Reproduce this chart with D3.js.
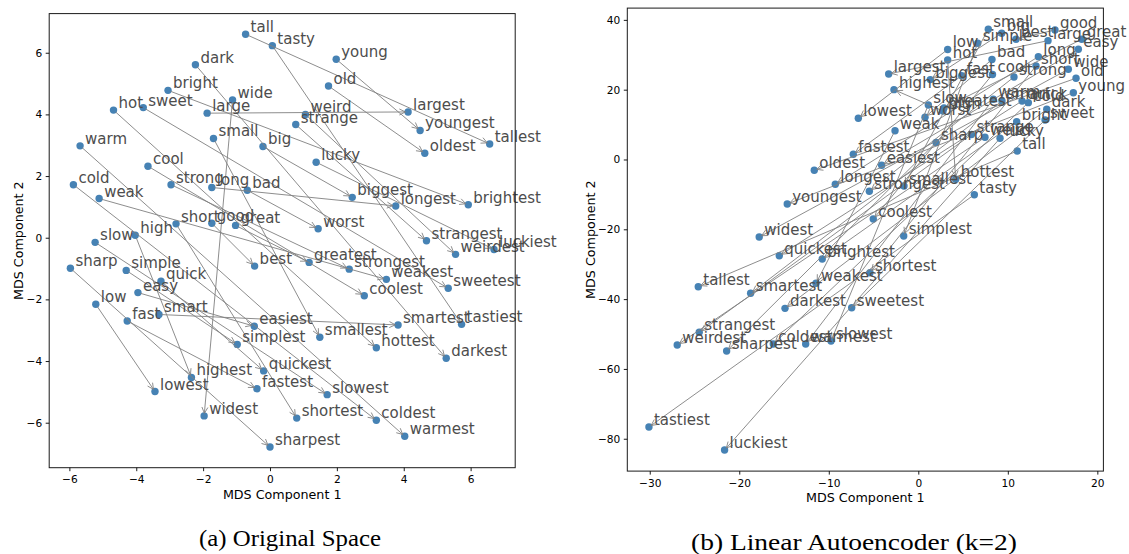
<!DOCTYPE html>
<html><head><meta charset="utf-8">
<script src="https://cdn.jsdelivr.net/npm/d3@7"></script>
<style>body{margin:0;background:#fff} svg{display:block}</style>
</head><body>
<svg id="c" width="1129" height="554"></svg>
<script>
// ---------- data ----------
const baseWords = ["tall","tasty","dark","bright","wide","hot","sweet","large","small","warm","big","cool","cold","strong","long","bad","weak","short","good","great","high","young","old","weird","strange","lucky","slow","sharp","simple","quick","easy","low","smart","fast"];
const supWords  = ["tallest","tastiest","darkest","brightest","widest","hottest","sweetest","largest","smallest","warmest","biggest","coolest","coldest","strongest","longest","worst","weakest","shortest","best","greatest","highest","youngest","oldest","weirdest","strangest","luckiest","slowest","sharpest","simplest","quickest","easiest","lowest","smartest","fastest"];

// (a) Original Space
const origBaseX = [-0.73,0.07,-2.23,-3.05,-1.12,-4.68,-3.79,-1.88,-1.69,-5.68,-0.21,-3.65,-5.88,-2.96,-1.74,-0.68,-5.11,-2.81,-1.74,-1.03,-4.03,1.98,1.75,1.06,0.77,1.38,-5.23,-5.97,-4.30,-3.26,-3.95,-5.21,-3.32,-4.27];
const origBaseY = [6.60,6.23,5.61,4.78,4.47,4.14,4.22,4.04,3.22,2.98,2.96,2.32,1.72,1.72,1.63,1.54,1.27,0.45,0.47,0.40,0.08,5.79,4.92,4.00,3.67,2.45,-0.15,-0.99,-1.06,-1.41,-1.78,-2.16,-2.49,-2.70];
const origSupX  = [6.57,5.73,5.27,5.93,-1.97,3.18,5.33,4.13,1.49,4.03,2.46,2.82,3.18,2.37,3.76,1.44,3.48,0.80,-0.46,1.17,-2.35,4.49,4.63,5.55,4.68,6.70,1.71,0.00,-0.98,-0.19,-0.47,-3.44,3.83,-0.39];
const origSupY  = [3.04,-2.81,-3.91,1.07,-5.78,-3.57,-1.64,4.08,-3.23,-6.44,1.31,-1.88,-5.92,-1.02,1.03,0.29,-1.35,-5.85,-0.92,-0.80,-4.53,3.48,2.74,-0.54,-0.10,-0.38,-5.09,-6.79,-3.46,-4.32,-2.87,-4.99,-2.83,-4.90];

// (b) Linear Autoencoder (k=2)
const aeBaseX = [11.05,6.26,14.35,10.99,16.76,3.28,14.16,14.49,7.82,8.38,9.32,8.29,12.29,10.69,13.41,8.23,-2.60,13.15,15.27,18.26,2.76,17.32,17.62,7.45,5.94,9.13,1.12,1.98,6.64,11.59,17.88,3.28,9.35,4.85];
const aeBaseY = [2.44,-10.09,14.38,10.83,25.85,28.51,11.32,34.04,37.34,17.25,36.16,24.36,16.28,23.64,29.46,28.65,8.25,26.79,37.11,34.44,13.90,19.14,23.27,6.36,7.16,6.07,15.62,4.87,33.30,16.76,31.58,31.52,16.76,24.01];
const aeSupX  = [-24.58,-30.09,-14.89,-10.73,-17.77,4.18,-7.44,-3.31,-1.60,-12.58,1.34,-5.03,-16.20,-5.47,-9.27,0.75,-11.43,-5.40,10.92,2.87,-2.72,-14.64,-11.62,-26.93,-24.47,-21.64,-9.75,-21.41,-1.63,-15.53,-4.09,-6.70,-18.73,-7.26];
const aeSupY  = [-36.45,-76.65,-42.64,-28.51,-22.21,-5.67,-42.46,24.50,-7.59,-52.87,22.89,-17.05,-52.87,-9.11,-7.11,12.12,-35.47,-32.44,34.44,14.76,20.00,-12.75,-3.09,-53.15,-49.51,-83.24,-52.01,-54.87,-21.92,-27.56,-1.66,11.81,-38.34,1.49];

const origXTicks = [-6,-4,-2,0,2,4,6];
const origYTicks = [-6,-4,-2,0,2,4,6];
const aeXTicks = [-30,-20,-10,0,10,20];
const aeYTicks = [-80,-60,-40,-20,0,20,40];

const xLabel = "MDS Component 1";
const yLabel = "MDS Component 2";
const captions = ["(a) Original Space", "(b) Linear Autoencoder (k=2)"];

// ---------- drawing ----------
const svg = d3.select("#c");
const SANS = "DejaVu Sans, Verdana, sans-serif";

function padded(vals){
  const [a,b] = d3.extent(vals); const m = (b-a)*0.05; return [a-m, b+m];
}

function panel(cfg){
  const {bx,by,sx,sy,xticks,yticks,left,right,top,bottom,ylabX} = cfg;
  const x = d3.scaleLinear().domain(padded(bx.concat(sx))).range([left,right]);
  const y = d3.scaleLinear().domain(padded(by.concat(sy))).range([bottom,top]);
  const g = svg.append("g");

  const pts = [];
  baseWords.forEach((w,i)=>pts.push({w, x:bx[i], y:by[i]}));
  supWords.forEach((w,i)=>pts.push({w, x:sx[i], y:sy[i]}));
  g.append("g").selectAll("circle").data(pts).join("circle")
    .attr("cx",d=>x(d.x)).attr("cy",d=>y(d.y)).attr("r",3.7).attr("fill","#4682b4");

  const ag = g.append("g").attr("stroke","#808080").attr("stroke-width",0.9).attr("fill","none");
  baseWords.forEach((w,i)=>{
    const x0=x(bx[i]), y0=y(by[i]), x1=x(sx[i]), y1=y(sy[i]);
    const dx=x1-x0, dy=y1-y0, L=Math.hypot(dx,dy), ux=dx/L, uy=dy/L;
    const s=2.7;
    const ax=x0+ux*s, ay=y0+uy*s, ex=x1-ux*s, ey=y1-uy*s;
    const hl=6, hw=3;
    const px=-uy, py=ux;
    ag.append("path").attr("d",
      `M${ax},${ay}L${ex},${ey}` +
      `M${ex-ux*hl+px*hw},${ey-uy*hl+py*hw}L${ex},${ey}L${ex-ux*hl-px*hw},${ey-uy*hl-py*hw}`);
  });

  g.append("g").selectAll("text").data(pts).join("text")
    .attr("x",d=>x(d.x)+5).attr("y",d=>y(d.y)-2)
    .attr("font-family",SANS).attr("font-size",15).attr("fill","#4d4d4d")
    .text(d=>d.w);

  g.append("rect").attr("x",left).attr("y",top).attr("width",right-left).attr("height",bottom-top)
    .attr("fill","none").attr("stroke","#1a1a1a").attr("stroke-width",1);

  const xa = g.append("g").attr("transform",`translate(0,${bottom})`)
    .call(d3.axisBottom(x).tickValues(xticks).tickSize(3.5).tickPadding(4.5).tickSizeOuter(0));
  const ya = g.append("g").attr("transform",`translate(${left},0)`)
    .call(d3.axisLeft(y).tickValues(yticks).tickSize(3.5).tickPadding(3.5).tickSizeOuter(0));
  [xa,ya].forEach(a=>{
    a.select(".domain").remove();
    a.selectAll("text").attr("font-family",SANS).attr("font-size",10.6).attr("fill","#000");
    a.selectAll("line").attr("stroke","#000").attr("stroke-width",0.9);
  });

  g.append("text").attr("x",(left+right)/2).attr("y",bottom+31).attr("text-anchor","middle")
    .attr("font-family",SANS).attr("font-size",12.7).text(xLabel);
  g.append("text").attr("transform",`translate(${ylabX},${(top+bottom)/2}) rotate(-90)`)
    .attr("text-anchor","middle").attr("font-family",SANS).attr("font-size",12.7).text(yLabel);
}

panel({bx:origBaseX,by:origBaseY,sx:origSupX,sy:origSupY,xticks:origXTicks,yticks:origYTicks,
  left:49.2,right:515.2,top:13.6,bottom:467.7,ylabX:23});
panel({bx:aeBaseX,by:aeBaseY,sx:aeSupX,sy:aeSupY,xticks:aeXTicks,yticks:aeYTicks,
  left:627.3,right:1103.4,top:8.1,bottom:471.1,ylabX:595});

svg.append("text").attr("x",290).attr("y",546).attr("text-anchor","middle")
  .attr("font-family","Liberation Serif, Times New Roman, serif").attr("font-size",24)
  .attr("textLength",182).attr("lengthAdjust","spacingAndGlyphs").text(captions[0]);
svg.append("text").attr("x",854).attr("y",550).attr("text-anchor","middle")
  .attr("font-family","Liberation Serif, Times New Roman, serif").attr("font-size",24)
  .attr("textLength",326).attr("lengthAdjust","spacingAndGlyphs").text(captions[1]);
</script>
</body></html>
